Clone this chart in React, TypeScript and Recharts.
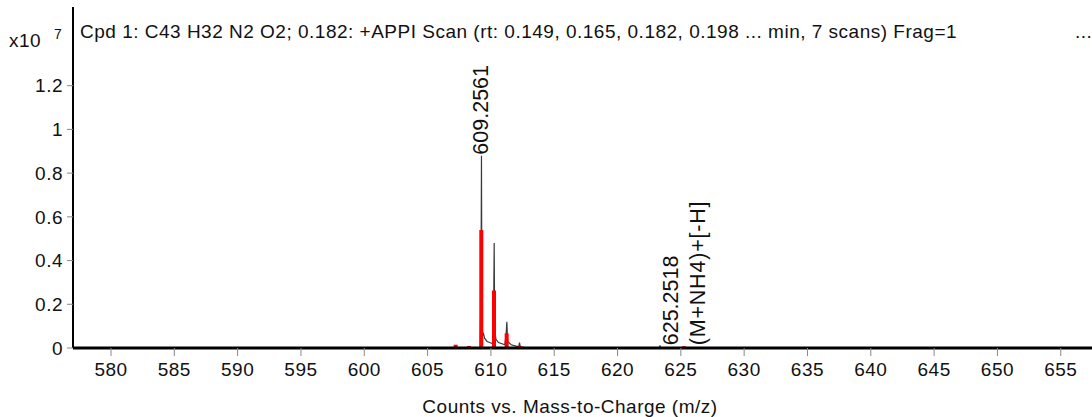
import { ComposedChart, Area, Bar, Scatter, XAxis, YAxis } from "recharts";

// intensities in units of 1e7 counts
const profile = [
  { mz: 602.2, intensity: 0 },
  { mz: 609.15, intensity: 0 },
  { mz: 609.22, intensity: 0.3 },
  { mz: 609.2561, intensity: 0.88 },
  { mz: 609.29, intensity: 0.2 },
  { mz: 609.32, intensity: 0.05 },
  { mz: 609.4, intensity: 0.07 },
  { mz: 609.5, intensity: 0.045 },
  { mz: 609.7, intensity: 0.03 },
  { mz: 609.9, intensity: 0.025 },
  { mz: 610.15, intensity: 0.02 },
  { mz: 610.22, intensity: 0.2 },
  { mz: 610.26, intensity: 0.48 },
  { mz: 610.3, intensity: 0.08 },
  { mz: 610.4, intensity: 0.04 },
  { mz: 610.6, intensity: 0.025 },
  { mz: 611.1, intensity: 0.015 },
  { mz: 611.2, intensity: 0.06 },
  { mz: 611.26, intensity: 0.12 },
  { mz: 611.32, intensity: 0.03 },
  { mz: 611.6, intensity: 0.015 },
  { mz: 612.2, intensity: 0.005 },
  { mz: 612.26, intensity: 0.025 },
  { mz: 612.32, intensity: 0.005 },
  { mz: 613, intensity: 0 },
  { mz: 623.3, intensity: 0 },
  { mz: 623.35, intensity: 0.012 },
  { mz: 623.4, intensity: 0 },
  { mz: 633.2, intensity: 0 },
];

const centroids = [
  { mz: 607.23, intensity: 0.015 },
  { mz: 608.28, intensity: 0.009 },
  { mz: 609.2561, intensity: 0.54 },
  { mz: 610.26, intensity: 0.263 },
  { mz: 611.26, intensity: 0.067 },
  { mz: 612.26, intensity: 0.01 },
  { mz: 625.2518, intensity: 0.008 },
];

const annotations = [
  { mz: 609.2561, intensity: 0.88, lines: ["609.2561"] },
  { mz: 625.2518, intensity: 0.008, lines: ["625.2518", "(M+NH4)+[-H]"] },
];

const xTicks = [580, 585, 590, 595, 600, 605, 610, 615, 620, 625, 630, 635, 640, 645, 650, 655];
const yTicks = [0, 0.2, 0.4, 0.6, 0.8, 1, 1.2];

const FONT = "'Liberation Sans', Arial, sans-serif";
const X_DOMAIN: [number, number] = [577, 658.1];

function PeakLabel(props: any) {
  const { cx, cy, payload } = props;
  const lines: string[] = payload.lines;
  const gap = 27;
  return (
    <g>
      {lines.map((t, i) => (
        <text
          key={t}
          transform={`translate(${cx},${cy - 1}) rotate(-90)`}
          x={0}
          y={(i - (lines.length - 1) / 2) * gap}
          textAnchor="start"
          dominantBaseline="central"
          fontSize={21.5}
          fontFamily={FONT}
          fill="#111"
          letterSpacing={i > 0 ? 0.8 : 0}
        >
          {t}
        </text>
      ))}
    </g>
  );
}

const textStyle = { position: "absolute" as const, fontSize: 19, lineHeight: 1, letterSpacing: 0.5, whiteSpace: "nowrap" as const };

export default function App() {
  return (
    <div
      style={{
        position: "absolute",
        left: 0,
        top: 0,
        width: 1092,
        height: 417,
        overflow: "hidden",
        background: "#fff",
        fontFamily: FONT,
        color: "#111",
      }}
    >
      <ComposedChart
        width={1100}
        height={417}
        data={centroids}
        margin={{ top: 7, right: 0, bottom: 0, left: 0 }}
      >
        {/* top frame line; also carries the profile and labels so the bar axis only sees centroids */}
        <XAxis
          xAxisId="top"
          orientation="top"
          type="number"
          dataKey="mz"
          domain={X_DOMAIN}
          height={0}
          tick={false}
          tickLine={false}
          axisLine={{ stroke: "#000", strokeWidth: 2 }}
          allowDataOverflow
        />
        <XAxis
          type="number"
          dataKey="mz"
          domain={X_DOMAIN}
          ticks={xTicks}
          height={69}
          tickSize={8}
          tickMargin={7}
          tickLine={{ stroke: "#888" }}
          axisLine={{ stroke: "#000", strokeWidth: 3 }}
          tick={{ fill: "#111", fontSize: 19, fontFamily: FONT, letterSpacing: 0.5 }}
          allowDataOverflow
        />
        <YAxis
          type="number"
          dataKey="intensity"
          domain={[0, 1.56]}
          ticks={yTicks}
          width={73}
          tickSize={6}
          tickMargin={4}
          tickLine={{ stroke: "#888" }}
          axisLine={{ stroke: "#000", strokeWidth: 2 }}
          tick={{ fill: "#111", fontSize: 19, fontFamily: FONT, letterSpacing: 0.5 }}
          tickFormatter={(v: number) => String(v)}
          allowDataOverflow
        />
        {/* profile spectrum, drawn as an unfilled area so it sits under the centroid bars */}
        <Area
          xAxisId="top"
          data={profile}
          dataKey="intensity"
          type="linear"
          stroke="#3a3a3a"
          strokeWidth={1.2}
          fill="none"
          fillOpacity={0}
          dot={false}
          activeDot={false}
          isAnimationActive={false}
        />
        <Bar dataKey="intensity" fill="#ff0000" barSize={4} isAnimationActive={false} />
        <Scatter
          xAxisId="top"
          data={annotations}
          dataKey="intensity"
          shape={PeakLabel}
          isAnimationActive={false}
        />
      </ComposedChart>

      <div style={{ ...textStyle, left: 80, top: 22 }}>
        Cpd 1: C43 H32 N2 O2; 0.182: +APPI Scan (rt: 0.149, 0.165, 0.182, 0.198 ... min, 7 scans) Frag=1
      </div>
      <div style={{ ...textStyle, left: 1075, top: 22 }}>...</div>
      <div style={{ ...textStyle, left: 9, top: 31 }}>x10</div>
      <div style={{ ...textStyle, left: 54, top: 26.5, fontSize: 14, letterSpacing: 0 }}>7</div>
      <div style={{ ...textStyle, left: 0, width: 1140, top: 397, textAlign: "center" }}>
        Counts vs. Mass-to-Charge (m/z)
      </div>
    </div>
  );
}
